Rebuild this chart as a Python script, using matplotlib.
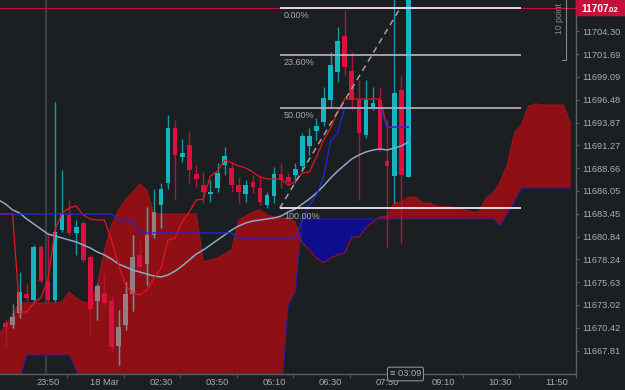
import numpy as np
import matplotlib
matplotlib.use("Agg")
import matplotlib.pyplot as plt
from matplotlib.path import Path
from matplotlib.patches import PathPatch, Rectangle
from matplotlib.lines import Line2D

plt.rcParams["font.family"] = ["Liberation Sans", "DejaVu Sans"]

# x unit = one 10 minute bar, 0 = 23:50 (17 Mar)
first_bar = -6
opens = [11670.96, 11670.73, 11672.11, 11674.28, 11673.59, 11679.65, 11675.76, 11673.59, 11681.59, 11683.31,
         11681.25, 11682.39, 11678.50, 11673.48, 11674.39, 11673.48, 11668.33, 11670.73, 11674.28, 11678.73,
         11677.70, 11681.02, 11684.45, 11686.96, 11693.25, 11689.93, 11691.31, 11687.99, 11686.73, 11685.71,
         11686.39, 11689.02, 11688.68, 11686.73, 11685.71, 11687.08, 11686.39, 11684.45, 11685.48, 11687.99,
         11687.65, 11687.88, 11688.91, 11691.19, 11692.91, 11693.94, 11696.45, 11699.65, 11703.77, 11699.76,
         11696.45, 11692.45, 11695.65, 11696.45, 11689.48, 11687.76, 11697.59, 11687.65]
highs = [11671.30, 11673.13, 11676.79, 11675.53, 11679.88, 11679.88, 11681.25, 11696.22, 11688.45, 11685.02,
         11682.73, 11682.62, 11678.73, 11675.42, 11676.68, 11674.16, 11672.45, 11675.65, 11681.02, 11680.45,
         11684.22, 11686.28, 11686.96, 11694.74, 11694.16, 11692.00, 11692.91, 11689.02, 11688.22, 11687.31,
         11689.25, 11691.08, 11689.36, 11687.65, 11687.31, 11687.88, 11687.88, 11685.93, 11688.79, 11689.25,
         11688.11, 11689.25, 11692.68, 11693.25, 11694.39, 11697.94, 11701.94, 11704.79, 11706.74, 11701.94,
         11698.74, 11698.74, 11697.94, 11697.94, 11694.16, 11707.95, 11699.31, 11707.95]
lows = [11668.22, 11670.39, 11671.53, 11673.36, 11673.48, 11675.53, 11673.36, 11673.36, 11681.36, 11680.91,
        11678.73, 11677.93, 11669.36, 11671.30, 11673.02, 11667.65, 11666.16, 11670.16, 11672.33, 11676.22,
        11675.30, 11680.68, 11681.82, 11686.28, 11685.02, 11689.36, 11686.96, 11686.51, 11684.68, 11684.79,
        11685.93, 11687.88, 11685.93, 11684.68, 11684.79, 11685.82, 11684.45, 11684.11, 11684.68, 11686.39,
        11686.73, 11686.96, 11688.45, 11690.16, 11691.88, 11693.48, 11695.65, 11698.51, 11699.31, 11695.31,
        11685.02, 11692.11, 11695.31, 11690.51, 11679.65, 11684.68, 11680.11, 11687.65]
closes = [11670.50, 11671.65, 11674.50, 11673.82, 11679.65, 11675.76, 11673.59, 11681.36, 11683.53, 11681.25,
          11681.93, 11678.16, 11672.56, 11675.19, 11673.25, 11668.22, 11670.50, 11674.28, 11678.50, 11677.36,
          11681.02, 11683.65, 11686.28, 11693.25, 11690.16, 11690.39, 11688.45, 11687.42, 11685.93, 11685.93,
          11688.11, 11690.05, 11686.73, 11685.93, 11686.73, 11686.51, 11684.79, 11685.59, 11687.99, 11687.31,
          11687.08, 11688.56, 11692.34, 11692.34, 11693.48, 11696.68, 11700.45, 11703.19, 11700.22, 11696.45,
          11692.68, 11696.45, 11696.11, 11690.73, 11688.91, 11697.25, 11687.88, 11707.90]

# indicator lines start one bar before the first candle
line_first = -7
tenkan = [11683.42, 11683.42, 11683.42, 11672.22, 11672.22, 11673.25, 11673.82, 11675.88, 11681.59, 11683.53,
          11684.11, 11684.33, 11683.31, 11682.85, 11682.73, 11682.73, 11680.45, 11677.59, 11675.30, 11674.39,
          11674.16, 11674.73, 11676.10, 11677.25, 11680.45, 11680.68, 11682.51, 11683.65, 11685.02, 11685.13,
          11687.76, 11688.33, 11689.59, 11689.25, 11688.91, 11688.68, 11688.22, 11687.65, 11687.42, 11687.42,
          11687.42, 11686.73, 11687.08, 11688.11, 11688.22, 11689.93, 11691.88, 11693.25, 11695.08, 11696.56,
          11696.56, 11696.56, 11696.56, 11696.56, 11696.56, 11693.36, 11693.36, 11693.36, 11693.36]
kijun = [11683.42, 11683.42, 11683.42, 11683.42, 11683.42, 11683.42, 11683.42, 11683.42, 11683.42, 11683.42,
         11683.42, 11683.42, 11683.42, 11683.42, 11683.42, 11683.42, 11683.42, 11682.73, 11682.73, 11682.73,
         11681.25, 11681.25, 11681.25, 11681.25, 11681.25, 11681.25, 11681.25, 11681.25, 11681.25, 11681.25,
         11681.25, 11681.25, 11681.25, 11681.25, 11680.68, 11680.68, 11680.68, 11680.68, 11680.68, 11680.68,
         11680.68, 11680.68, 11680.68, 11682.73, 11684.45, 11685.59, 11687.65, 11691.76, 11692.68, 11695.54,
         11695.54, 11695.54, 11695.54, 11695.54, 11695.54, 11693.36, 11693.36, 11693.36, 11693.36]
sma = [11685.02, 11684.56, 11683.88, 11683.53, 11682.85, 11682.28, 11681.71, 11681.13, 11680.91, 11680.68,
       11680.45, 11680.22, 11679.88, 11679.53, 11679.08, 11678.73, 11678.27, 11677.70, 11677.36, 11677.02,
       11676.79, 11676.56, 11676.33, 11676.22, 11676.45, 11676.90, 11677.48, 11678.16, 11678.85, 11679.31,
       11679.88, 11680.45, 11681.02, 11681.59, 11682.05, 11682.39, 11682.62, 11682.73, 11682.85, 11682.96,
       11683.19, 11683.65, 11683.99, 11684.56, 11685.13, 11685.82, 11686.62, 11687.53, 11688.33, 11689.02,
       11689.71, 11690.16, 11690.51, 11690.73, 11690.85, 11690.73, 11690.96, 11691.19, 11691.65]
span_a = [11669.59, 11670.62, 11671.99, 11673.25, 11673.25, 11673.25, 11673.25, 11673.25, 11673.25, 11673.36,
          11674.50, 11673.82, 11673.36, 11673.25, 11675.30, 11679.31, 11682.16, 11683.88, 11685.02, 11685.93,
          11686.85, 11686.16, 11683.42, 11683.42, 11683.42, 11683.42, 11683.42, 11683.42, 11683.42, 11677.93,
          11678.16, 11678.39, 11678.85, 11679.31, 11682.73, 11683.19, 11683.65, 11683.88, 11683.31, 11683.08,
          11682.96, 11682.96, 11682.51, 11680.11, 11679.31, 11678.39, 11677.82, 11678.39, 11678.73, 11678.96,
          11680.79, 11680.79, 11681.82, 11682.51, 11683.08, 11683.19, 11684.68, 11684.79, 11685.36, 11685.36,
          11684.68, 11684.68, 11684.33, 11684.22, 11684.22, 11684.11, 11683.88, 11683.65, 11683.65, 11685.25,
          11685.82, 11687.08, 11689.02, 11692.68, 11693.59, 11695.76, 11696.00, 11695.88, 11695.88, 11695.88,
          11695.88, 11693.59]
span_b = [11662.16, 11662.16, 11662.16, 11664.45, 11667.30, 11667.30, 11667.30, 11667.30, 11667.30, 11667.30,
          11667.30, 11665.59, 11662.16, 11662.16, 11662.16, 11662.16, 11662.16, 11662.16, 11662.16, 11662.16,
          11662.16, 11662.16, 11662.16, 11662.16, 11662.16, 11662.16, 11662.16, 11662.16, 11662.16, 11662.16,
          11662.16, 11662.16, 11662.16, 11662.16, 11662.16, 11662.16, 11662.16, 11662.16, 11662.16, 11662.16,
          11662.16, 11672.90, 11674.50, 11682.85, 11682.85, 11682.85, 11682.85, 11682.85, 11682.85, 11682.85,
          11682.85, 11682.85, 11682.85, 11682.85, 11682.85, 11682.85, 11682.85, 11682.85, 11682.85, 11682.85,
          11682.85, 11682.85, 11682.85, 11682.85, 11682.85, 11682.85, 11682.85, 11682.85, 11682.85, 11682.85,
          11682.85, 11682.05, 11683.42, 11684.79, 11686.39, 11686.39, 11686.39, 11686.39, 11686.39, 11686.39,
          11686.39, 11686.39]

fib_high = 11707.02
fib_low = 11684.07
fib_levels = [0.0, 0.236, 0.5, 1.0]
fib_labels = ["0.00%", "23.60%", "50.00%", "100.00%"]
fib_low_bar, fib_high_bar, fib_end_bar = 32.8, 49.9, 66.9

last_price = 11707.02
price_ticks = [11667.81, 11670.42, 11673.02, 11675.63, 11678.24, 11680.84, 11683.45, 11686.05,
               11688.66, 11691.27, 11693.87, 11696.48, 11699.09, 11701.69, 11704.30]
time_minutes = [0, 80, 160, 240, 320, 400, 480, 560, 640, 720]
time_labels = ["23:50", "18 Mar", "02:30", "03:50", "05:10", "06:30", "07:50", "09:10", "10:30", "11:50"]

BG = "#1b1f22"
CYAN, CYAN_W = "#14b4c0", "#1496a2"
RED, RED_W = "#dc1040", "#b0143a"
GREY = "#947e83"
CLOUD_RED, CLOUD_BLUE = "#8e1014", "#0d0d8e"
TXT = "#a8adb2"
AX = "#596066"

opens, highs, lows, closes = map(np.array, (opens, highs, lows, closes))
bars = np.arange(len(opens)) + first_bar
lx = np.arange(len(tenkan)) + line_first
cx = np.arange(len(span_a)) + line_first
span_a, span_b = np.array(span_a), np.array(span_b)

fig = plt.figure(figsize=(6.25, 3.9), dpi=100, facecolor=BG)
ax = fig.add_axes([0, 16 / 390, 576 / 625, 374 / 390])
ax.set_facecolor(BG)
ax.set_xlim(-6.78, 73.78)
ax.set_ylim(11665.13, 11707.88)

# cloud
red = ax.fill_between(cx, span_a, span_b, where=span_a >= span_b, interpolate=True,
                      color=CLOUD_RED, lw=0, zorder=1)
ax.fill_between(cx, span_a, span_b, where=span_a < span_b, interpolate=True,
                color=CLOUD_BLUE, lw=0, zorder=1)
ax.plot(cx, span_a, color="#9a141c", lw=0.8, zorder=1.2)
ax.plot(cx, span_b, color="#2c1c9e", lw=0.8, zorder=1.2)
clip = PathPatch(Path.make_compound_path(*red.get_paths()), transform=ax.transData)

ax.axvline(-0.2, color="#363d43", lw=1.6, zorder=0.5)

# candles
up = closes >= opens
body_lo = np.minimum(opens, closes)
body_h = np.maximum(np.abs(closes - opens), 0.2)
for sel, col, wcol, z in [(up, CYAN, CYAN_W, 2), (~up, RED, RED_W, 2.4)]:
    ax.vlines(bars[sel], lows[sel], highs[sel], color=wcol, lw=1, zorder=z)
    ax.bar(bars[sel], body_h[sel], bottom=body_lo[sel], width=0.66, color=col, lw=0, zorder=z)
# up bars sitting inside the red cloud come out grey
wg = ax.vlines(bars[up], lows[up], highs[up], color=GREY, lw=1, zorder=2.2)
wg.set_clip_path(clip)
for p in ax.bar(bars[up], body_h[up], bottom=body_lo[up], width=0.66, color=GREY, lw=0, zorder=2.2):
    p.set_clip_path(clip)

# lines
ax.plot(lx, sma, color="#8ea8c6", lw=1.1, zorder=3)
ax.plot(lx, tenkan, color="#e8141e", lw=0.9, zorder=3.1)
ax.plot(lx, kijun, color="#2424e6", lw=0.9, zorder=3.2)

ax.axhline(last_price, color="#c0103a", lw=0.8, zorder=3.5)

# fibonacci
ax.plot([fib_low_bar, fib_high_bar], [fib_low, fib_high], color="#a0a0a4", lw=1.1,
        ls=(0, (4, 3)), zorder=3.6)
for lvl, lab in zip(fib_levels, fib_labels):
    price = fib_high - lvl * (fib_high - fib_low)
    col = "#ece6f2" if lvl in (0.0, 1.0) else "#b2a6c2"
    ax.plot([fib_low_bar, fib_end_bar], [price, price], color=col, lw=1.3, zorder=4,
            solid_capstyle="butt")
    ax.annotate(lab, (fib_low_bar, price), xytext=(3, -5.6), textcoords="offset points",
                va="center", ha="left", fontsize=6.5, color="#aaa5b4", zorder=4)

# axes
for s in ("top", "left"):
    ax.spines[s].set_visible(False)
for s in ("right", "bottom"):
    ax.spines[s].set_color(AX)
    ax.spines[s].set_linewidth(1)
ax.yaxis.tick_right()
ax.set_yticks(price_ticks)
ax.set_yticklabels([f"{v:.2f}" for v in price_ticks])
ax.tick_params(axis="y", colors=AX, labelcolor=TXT, labelsize=6.7, length=2.5, pad=2.2)
ax.set_xticks([m / 10 for m in time_minutes])
ax.set_xticklabels(time_labels)
ax.set_xticks([m / 10 + 2.73 for m in time_minutes], minor=True)
ax.tick_params(axis="x", which="major", length=0, labelcolor=TXT, labelsize=6.7, pad=3)
ax.tick_params(axis="x", which="minor", length=3, color=AX)

# last price tag
fig.patches.append(Rectangle((576 / 625, 1 - 15 / 390), 49 / 625, 15 / 390,
                             transform=fig.transFigure, color="#c4103a"))
fig.text(581 / 625, 1 - 11.5 / 390, "11707", color="white", fontsize=7.3,
         fontweight="bold", va="baseline", ha="left")
fig.text(608 / 625, 1 - 11.5 / 390, ".02", color="white", fontsize=5.6,
         fontweight="bold", va="baseline", ha="left")

# point ruler
fig.lines.append(Line2D([566 / 625, 566 / 625, 562 / 625], [1, 1 - 60 / 390, 1 - 60 / 390],
                        transform=fig.transFigure, color="#80868b", lw=0.8))
fig.text(559 / 625, 1 - 34 / 390, "10 point", rotation=90, ha="center", va="bottom",
         fontsize=6.2, color="#868b90")

# bar countdown
ax.annotate("\u2261 03:09", (50.6, 0), xycoords=("data", "axes fraction"), ha="center",
            va="center", fontsize=6.7, color=TXT, zorder=6, annotation_clip=False,
            bbox=dict(boxstyle="round,pad=0.25,rounding_size=0.2", fc=BG, ec="#8a9095", lw=0.8))

fig.savefig("out.png", dpi=100, facecolor=BG)
